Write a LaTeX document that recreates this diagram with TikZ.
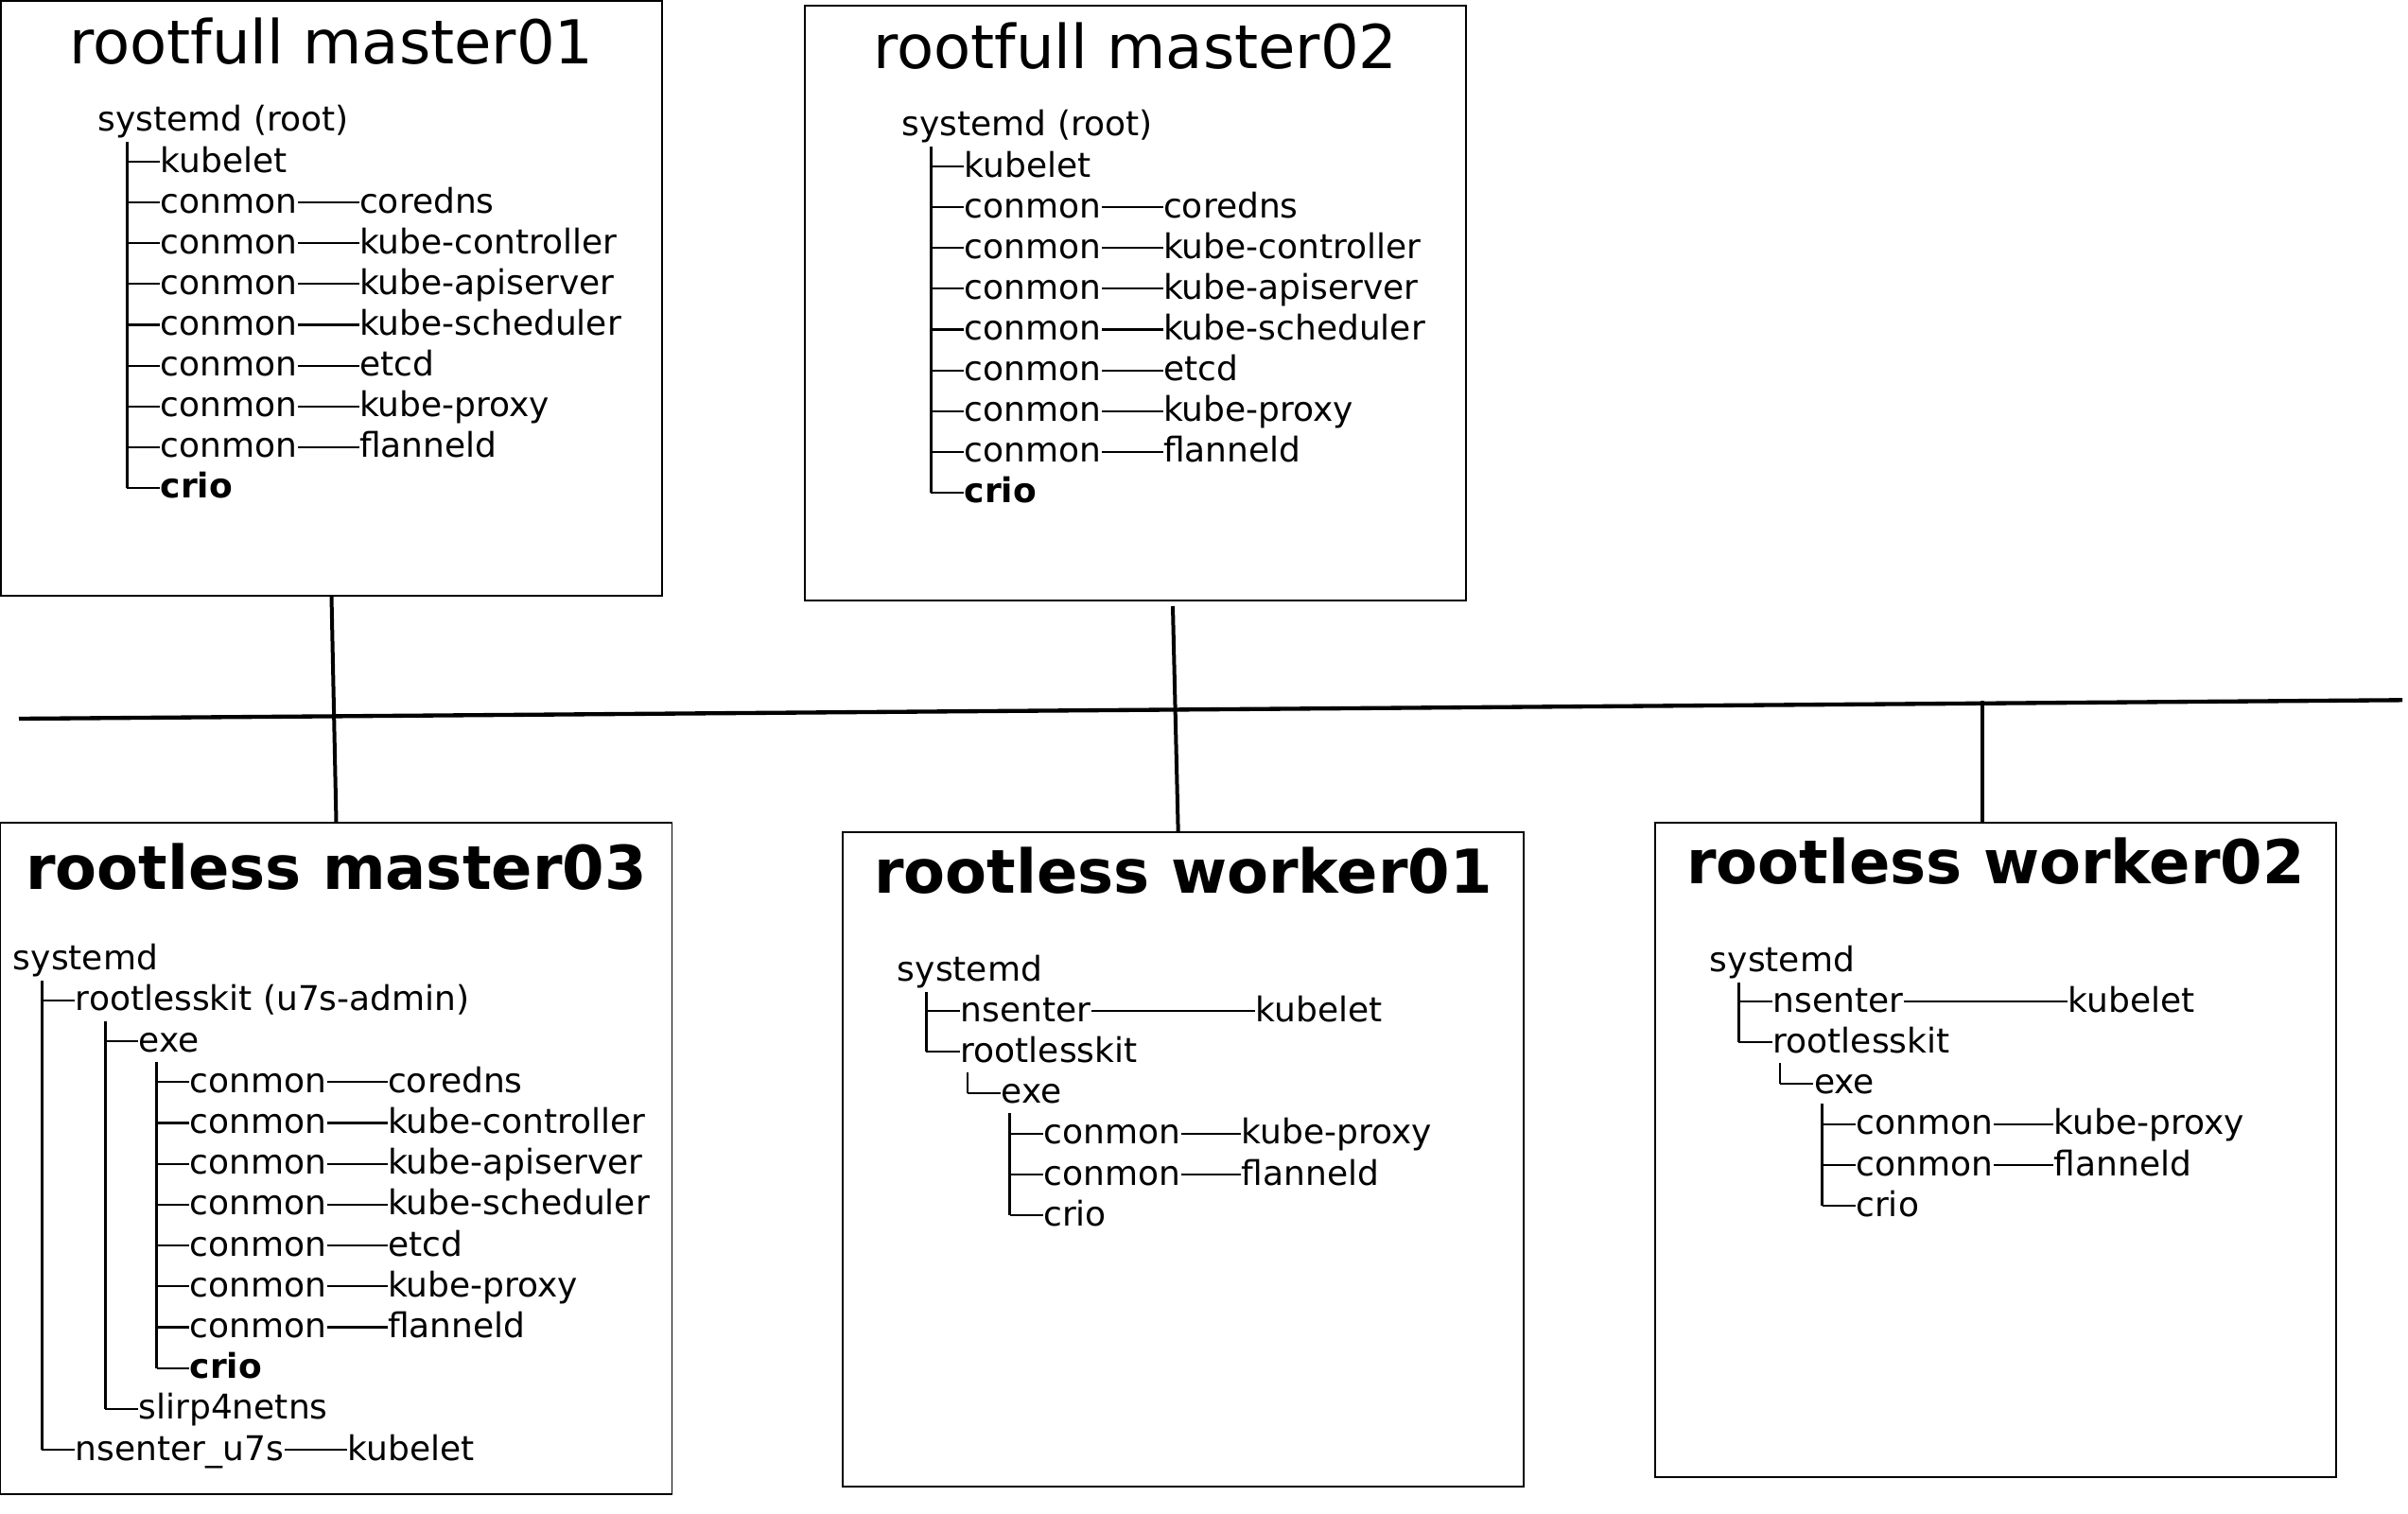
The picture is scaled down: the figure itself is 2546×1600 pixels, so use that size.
\documentclass[tikz,border=0pt]{standalone}
\usepackage{fontspec}
\setmainfont{DejaVu Sans}
\usetikzlibrary{calc}

\newcommand\proctext{\fontsize{10.8}{13}\selectfont}
\newcommand\hosttext{\fontsize{19.2}{23}\selectfont}

\tikzset{
	hostbox/.style={draw,line width=0.35pt,inner sep=0pt},
	hosttitle/.style={anchor=base,inner sep=0pt,font=\hosttext},
	proc/.style={anchor=base west,inner sep=0pt,font=\proctext,text height=9.1pt,text depth=2.5pt},
	stem/.style={line width=0.9pt},
	branch/.style={line width=0.65pt},
	pipe/.style={line width=0.65pt},
	link/.style={line width=1.2pt},
	bus/.style={line width=1.3pt},
}

\begin{document}
\begin{tikzpicture}[x=0.3pt,y=-0.3pt]
	\useasboundingbox (0,0) rectangle (2546,1600);

	%rootfull masters
	\foreach \host/\dx/\dy in {1/0/0,2/850/5}{
	\begin{scope}[shift={(\dx,\dy)}]
	\node[hostbox,minimum width=209.7pt,minimum height=188.7pt] (m\host) at (350.5,315.5) {};
	\node[hosttitle] (m\host-title) at (350.5,68) {rootfull master0\host};
	\node[proc] (m\host-sys) at (103,139) {systemd (root)};
	\coordinate (m\host-t) at (134,150);
	\node[proc] (m\host-kubelet) at (169,182.1) {kubelet};
	\draw[branch] (m\host-t |- m\host-kubelet.west) -- (m\host-kubelet.west);
	\foreach \i/\pod in {2/coredns,3/kube-controller,4/kube-apiserver,5/kube-scheduler,6/etcd,7/kube-proxy,8/flanneld}{
		\node[proc] (m\host-c\i) at (169,{139+43.1*\i}) {conmon};
		\node[proc] (m\host-p\i) at (379.5,{139+43.1*\i}) {\pod};
		\draw[pipe] (m\host-c\i) -- (m\host-p\i);
		\draw[branch] (m\host-t |- m\host-c\i.west) -- (m\host-c\i.west);
	}
	\node[proc,font=\proctext\bfseries] (m\host-crio) at (169,526.9) {crio};
	\draw[branch] (m\host-t |- m\host-crio.west) -- (m\host-crio.west);
	\draw[stem] (m\host-t) -- (m\host-t |- m\host-crio.west);
	\end{scope}
	}

	%rootless master03
	\node[hostbox,minimum width=213pt,minimum height=213pt] (m3) at (355.5,1225) {};
	\node[hosttitle,font=\hosttext\bfseries] (m3-title) at (355.5,940) {rootless master03};
	\node[proc] (m3-sys) at (13.3,1025.7) {systemd};
	\coordinate (m3-t) at (44.3,1037);
	\node[proc] (m3-kit) at (79.3,1068.9) {rootlesskit (u7s-admin)};
	\coordinate (m3-kt) at (111,1080);
	\node[proc] (m3-exe) at (146,1112.1) {exe};
	\coordinate (m3-et) at (165.7,1123);
	\foreach \i/\pod in {3/coredns,4/kube-controller,5/kube-apiserver,6/kube-scheduler,7/etcd,8/kube-proxy,9/flanneld}{
		\node[proc] (m3-c\i) at (200,{1025.7+43.2*\i}) {conmon};
		\node[proc] (m3-p\i) at (409.5,{1025.7+43.2*\i}) {\pod};
		\draw[pipe] (m3-c\i) -- (m3-p\i);
		\draw[branch] (m3-et |- m3-c\i.west) -- (m3-c\i.west);
	}
	\node[proc,font=\proctext\bfseries] (m3-crio) at (200,1457.7) {crio};
	\node[proc] (m3-slirp) at (146,1500.9) {slirp4netns};
	\node[proc] (m3-ns) at (79.3,1544.1) {nsenter\_u7s};
	\node[proc] (m3-kubelet) at (367,1544.1) {kubelet};
	\draw[pipe] (m3-ns) -- (m3-kubelet);
	\draw[branch] (m3-et |- m3-crio.west) -- (m3-crio.west);
	\draw[branch] (m3-kt |- m3-exe.west) -- (m3-exe.west);
	\draw[branch] (m3-kt |- m3-slirp.west) -- (m3-slirp.west);
	\draw[branch] (m3-t |- m3-kit.west) -- (m3-kit.west);
	\draw[branch] (m3-t |- m3-ns.west) -- (m3-ns.west);
	\draw[stem] (m3-et) -- (m3-et |- m3-crio.west);
	\draw[stem] (m3-kt) -- (m3-kt |- m3-slirp.west);
	\draw[stem] (m3-t) -- (m3-t |- m3-ns.west);

	%rootless workers
	\foreach \host/\dx/\dy in {1/0/0,2/859/-10}{
	\begin{scope}[shift={(\dx,\dy)}]
	\node[hostbox,minimum width=216pt,minimum height=207.6pt] (w\host) at (1251,1226) {};
	\node[hosttitle,font=\hosttext\bfseries] (w\host-title) at (1251,944) {rootless worker0\host};
	\node[proc] (w\host-sys) at (948.3,1037) {systemd};
	\coordinate (w\host-t) at (979.3,1049);
	\node[proc] (w\host-ns) at (1015,1080.2) {nsenter};
	\node[proc] (w\host-kubelet) at (1327,1080.2) {kubelet};
	\node[proc] (w\host-kit) at (1015,1123.4) {rootlesskit};
	\coordinate (w\host-kt) at (1023.3,1134);
	\node[proc] (w\host-exe) at (1058.3,1166.6) {exe};
	\coordinate (w\host-et) at (1067.7,1177);
	\node[proc] (w\host-c1) at (1102.7,1209.8) {conmon};
	\node[proc] (w\host-p1) at (1312,1209.8) {kube-proxy};
	\node[proc] (w\host-c2) at (1102.7,1253) {conmon};
	\node[proc] (w\host-p2) at (1312,1253) {flanneld};
	\node[proc] (w\host-crio) at (1102.7,1296.2) {crio};
	\draw[pipe] (w\host-ns) -- (w\host-kubelet);
	\draw[pipe] (w\host-c1) -- (w\host-p1);
	\draw[pipe] (w\host-c2) -- (w\host-p2);
	\draw[branch] (w\host-t |- w\host-ns.west) -- (w\host-ns.west);
	\draw[branch] (w\host-t |- w\host-kit.west) -- (w\host-kit.west);
	\draw[branch] (w\host-kt |- w\host-exe.west) -- (w\host-exe.west);
	\draw[branch] (w\host-et |- w\host-c1.west) -- (w\host-c1.west);
	\draw[branch] (w\host-et |- w\host-c2.west) -- (w\host-c2.west);
	\draw[branch] (w\host-et |- w\host-crio.west) -- (w\host-crio.west);
	\draw[stem] (w\host-t) -- (w\host-t |- w\host-kit.west);
	\draw[branch] (w\host-kt) -- (w\host-kt |- w\host-exe.west);
	\draw[stem] (w\host-et) -- (w\host-et |- w\host-crio.west);
	\end{scope}
	}

	%network
	\coordinate (bus-w) at (20,760);
	\coordinate (bus-e) at (2540,740.3);
	\draw[bus] (bus-w) -- (bus-e);
	\draw[link] (m1.south) -- (m3.north);
	\coordinate (m2-tap) at (1240,641);
	\draw[link] (m2-tap) -- ([xshift=-1.6pt]w1.north);
	\coordinate (w2-tap) at (2096,741);
	\draw[link] (w2-tap) -- (w2-tap |- w2.north);
\end{tikzpicture}
\end{document}
